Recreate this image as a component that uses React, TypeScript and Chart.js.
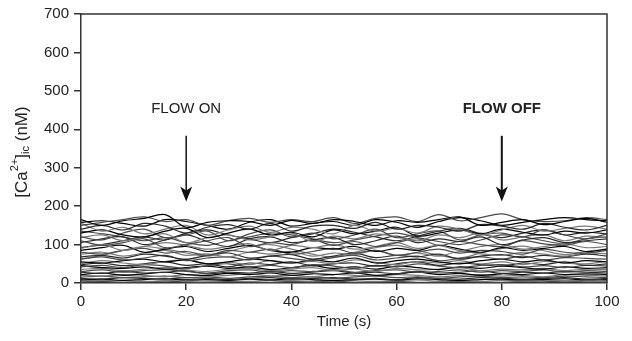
import React, { useEffect, useRef } from "react";
import { Chart, registerables } from "chart.js";

Chart.register(...registerables);

const TIMES = [0, 4, 8, 12, 16, 20, 24, 28, 32, 36, 40, 44, 48, 52, 56, 60, 64, 68, 72, 76, 80, 84, 88, 92, 96, 100];
const X_TICKS = [0, 20, 40, 60, 80, 100];
const Y_TICKS = [0, 100, 200, 300, 400, 500, 600, 700];
const ANNOTATIONS = [
  { label: "FLOW ON", time: 20, bold: false },
  { label: "FLOW OFF", time: 80, bold: true },
];

const T01 = [165, 150, 162, 168, 178, 145, 158, 162, 160, 150, 163, 155, 165, 160, 150, 162, 158, 165, 172, 150, 158, 165, 152, 160, 168, 158];
const T02 = [150, 158, 165, 172, 160, 165, 150, 162, 168, 158, 165, 160, 170, 155, 168, 172, 160, 178, 162, 170, 180, 165, 160, 162, 170, 165];
const T03 = [140, 150, 138, 155, 148, 130, 145, 152, 140, 155, 135, 148, 150, 142, 158, 140, 150, 145, 135, 152, 148, 140, 155, 145, 138, 150];
const T04 = [155, 135, 145, 128, 140, 150, 125, 138, 148, 132, 145, 140, 128, 150, 135, 142, 130, 148, 140, 125, 138, 150, 135, 142, 148, 140];
const T05 = [130, 138, 125, 120, 135, 142, 118, 130, 140, 125, 132, 120, 138, 128, 135, 145, 122, 130, 138, 128, 140, 132, 125, 135, 130, 138];
const T06 = [120, 112, 130, 140, 118, 125, 135, 110, 128, 138, 120, 130, 115, 125, 140, 118, 128, 135, 112, 125, 130, 120, 138, 125, 115, 128];
const T07 = [118, 125, 110, 120, 128, 105, 118, 125, 112, 120, 130, 108, 122, 115, 128, 120, 110, 125, 118, 130, 112, 120, 125, 110, 122, 118];
const T08 = [105, 115, 120, 100, 112, 125, 108, 95, 115, 120, 105, 112, 118, 100, 110, 122, 105, 115, 108, 120, 100, 112, 118, 105, 110, 115];
const T09 = [110, 98, 105, 115, 92, 100, 110, 118, 95, 105, 100, 112, 98, 108, 95, 105, 115, 98, 108, 100, 95, 110, 102, 98, 108, 100];
const T10 = [90, 100, 85, 95, 105, 98, 88, 95, 102, 85, 98, 92, 100, 88, 95, 105, 90, 98, 85, 95, 100, 88, 95, 102, 92, 95];
const T11 = [85, 92, 98, 80, 88, 95, 82, 90, 98, 85, 80, 92, 88, 95, 82, 90, 85, 98, 88, 80, 92, 85, 90, 95, 82, 88];
const T12 = [80, 75, 85, 90, 78, 82, 72, 85, 80, 88, 75, 82, 90, 78, 85, 72, 80, 88, 78, 85, 82, 75, 88, 80, 78, 85];
const T13 = [75, 80, 70, 78, 85, 72, 76, 68, 80, 75, 82, 70, 78, 74, 85, 72, 78, 70, 82, 76, 72, 80, 75, 70, 78, 76];
const T14 = [68, 72, 65, 75, 70, 62, 72, 78, 65, 70, 74, 62, 70, 78, 66, 72, 68, 75, 62, 70, 74, 66, 72, 68, 75, 70];
const T15 = [62, 68, 60, 65, 72, 58, 65, 68, 60, 70, 64, 58, 66, 72, 60, 65, 70, 58, 64, 68, 62, 70, 60, 66, 64, 62];
const T16 = [55, 52, 58, 62, 55, 60, 50, 55, 62, 58, 52, 60, 55, 65, 52, 58, 62, 55, 50, 58, 62, 55, 60, 52, 58, 55];
const T17 = [50, 58, 52, 48, 56, 60, 50, 54, 48, 58, 52, 56, 50, 60, 54, 48, 56, 52, 58, 50, 55, 48, 56, 52, 50, 56];
const T18 = [48, 52, 45, 50, 55, 46, 50, 42, 52, 48, 55, 45, 50, 52, 44, 50, 55, 46, 52, 48, 44, 52, 48, 55, 46, 50];
const T19 = [42, 46, 40, 48, 44, 38, 45, 50, 42, 46, 40, 48, 44, 38, 46, 42, 50, 44, 40, 46, 48, 42, 45, 40, 46, 44];
const T20 = [45, 40, 38, 42, 36, 40, 44, 38, 42, 35, 40, 45, 38, 42, 36, 44, 40, 35, 42, 38, 44, 40, 36, 42, 38, 40];
const T21 = [35, 38, 32, 36, 40, 34, 30, 36, 38, 32, 36, 40, 33, 36, 30, 38, 34, 36, 40, 32, 36, 34, 38, 32, 36, 35];
const T22 = [30, 34, 28, 32, 35, 30, 26, 32, 34, 28, 32, 30, 35, 28, 32, 34, 28, 30, 34, 28, 32, 30, 34, 28, 32, 30];
const T23 = [28, 25, 30, 26, 28, 32, 24, 28, 26, 30, 25, 28, 32, 26, 28, 24, 30, 26, 28, 32, 25, 28, 26, 30, 28, 26];
const T24 = [22, 26, 20, 24, 28, 22, 20, 25, 22, 26, 20, 24, 22, 26, 20, 24, 28, 22, 25, 20, 24, 22, 26, 22, 24, 22];
const T25 = [20, 18, 22, 20, 16, 22, 18, 20, 24, 18, 20, 16, 22, 20, 18, 22, 20, 16, 20, 22, 18, 20, 16, 22, 20, 18];
const T26 = [15, 18, 14, 16, 18, 14, 16, 12, 16, 18, 14, 16, 12, 16, 18, 14, 16, 12, 16, 18, 14, 16, 14, 18, 16, 14];
const T27 = [12, 10, 14, 12, 10, 14, 12, 9, 12, 14, 10, 12, 14, 10, 12, 9, 14, 12, 10, 14, 12, 10, 12, 14, 10, 12];
const T28 = [8, 10, 7, 9, 11, 8, 9, 7, 10, 8, 11, 9, 7, 9, 10, 8, 11, 9, 7, 9, 10, 8, 9, 11, 8, 9];
const T29 = [5, 7, 6, 4, 6, 8, 5, 6, 4, 7, 6, 5, 7, 6, 4, 6, 8, 5, 6, 4, 7, 5, 6, 7, 5, 6];
const T30 = [3, 4, 2, 3, 5, 3, 2, 4, 3, 2, 4, 3, 5, 2, 3, 4, 2, 3, 4, 3, 2, 4, 3, 5, 3, 3];
const T31 = [135, 128, 120, 110, 118, 105, 98, 110, 120, 130, 125, 115, 105, 112, 122, 130, 118, 108, 100, 112, 125, 120, 110, 102, 115, 120];
const T32 = [92, 100, 110, 120, 112, 130, 138, 125, 115, 105, 118, 128, 140, 132, 120, 110, 122, 135, 142, 128, 118, 130, 138, 125, 132, 128];
const T33 = [62, 72, 85, 95, 88, 78, 70, 82, 95, 100, 88, 75, 68, 80, 92, 98, 85, 72, 65, 78, 90, 96, 84, 74, 82, 88];
const T34 = [158, 162, 155, 148, 165, 160, 150, 140, 158, 165, 148, 155, 160, 150, 165, 158, 145, 160, 170, 162, 150, 158, 165, 170, 165, 162];

const TRACES = [T01, T02, T03, T04, T05, T06, T07, T08, T09, T10, T11, T12, T13, T14, T15, T16, T17, T18, T19, T20, T21, T22, T23, T24, T25, T26, T27, T28, T29, T30, T31, T32, T33, T34];
const TRACE_SHADES = ["#000000", "#4a4a4a", "#2a2a2a", "#7a7a7a"];
const TRACE_SHADE_ORDER = [0, 1, 2, 3, 0, 1, 3, 2, 1, 3, 0, 1, 3, 2, 1, 0, 3, 2, 1, 0, 3, 1, 2, 0, 3, 1, 2, 0, 3, 1, 1, 2, 3, 0];

const FONT = "'Liberation Sans', Arial, sans-serif";
const TEXT = "#222222";
const AXIS = "#333333";

const decorPlugin = {
  id: "decor",
  afterDraw(chart: any) {
    const { ctx, chartArea, scales } = chart;
    const { left, right, top, bottom } = chartArea;
    ctx.save();
    ctx.strokeStyle = AXIS;
    ctx.lineWidth = 1.5;
    ctx.beginPath();
    ctx.moveTo(left, top);
    ctx.lineTo(right, top);
    ctx.lineTo(right, bottom);
    ctx.stroke();

    ANNOTATIONS.forEach((a) => {
      const x = scales.x.getPixelForValue(a.time);
      const yText = scales.y.getPixelForValue(452);
      const yTail = scales.y.getPixelForValue(383);
      const yTip = scales.y.getPixelForValue(212);
      ctx.fillStyle = TEXT;
      ctx.font = (a.bold ? "bold " : "") + "15px " + FONT;
      ctx.textAlign = "center";
      ctx.textBaseline = "middle";
      ctx.fillText(a.label, x, yText);
      ctx.strokeStyle = "#111";
      ctx.lineWidth = a.bold ? 2 : 1.5;
      ctx.beginPath();
      ctx.moveTo(x, yTail);
      ctx.lineTo(x, yTip - 10);
      ctx.stroke();
      ctx.fillStyle = "#111";
      ctx.beginPath();
      ctx.moveTo(x, yTip);
      ctx.lineTo(x - 6, yTip - 15);
      ctx.lineTo(x, yTip - 11);
      ctx.lineTo(x + 6, yTip - 15);
      ctx.closePath();
      ctx.fill();
    });

    ctx.fillStyle = TEXT;
    ctx.font = "15px " + FONT;
    ctx.textAlign = "center";
    ctx.textBaseline = "middle";
    ctx.fillText("Time (s)", (left + right) / 2, 322);

    ctx.translate(22, 152);
    ctx.rotate(-Math.PI / 2);
    const parts = [
      { t: "[Ca", f: 17, dy: 0 },
      { t: "2+", f: 11, dy: -7 },
      { t: "]", f: 17, dy: 0 },
      { t: "ic", f: 11, dy: 4 },
      { t: " (nM)", f: 17, dy: 0 },
    ];
    let total = 0;
    parts.forEach((p) => {
      ctx.font = p.f + "px " + FONT;
      total += ctx.measureText(p.t).width;
    });
    let cx = -total / 2;
    ctx.textAlign = "left";
    parts.forEach((p) => {
      ctx.font = p.f + "px " + FONT;
      ctx.fillText(p.t, cx, p.dy);
      cx += ctx.measureText(p.t).width;
    });
    ctx.restore();
  },
};

export default function App() {
  const ref = useRef<HTMLCanvasElement | null>(null);

  useEffect(() => {
    if (!ref.current) return;
    const datasets = TRACES.map((vals, i) => ({
      label: "cell " + (i + 1),
      data: vals.map((v, j) => ({ x: TIMES[j], y: v })),
      borderColor: TRACE_SHADES[TRACE_SHADE_ORDER[i]],
      borderWidth: 1.2,
      pointRadius: 0,
      tension: 0.35,
      fill: false,
    }));
    const chart = new Chart(ref.current, {
      type: "line",
      data: { datasets },
      options: {
        animation: false,
        responsive: false,
        layout: { padding: { top: 12, right: 25, left: 0, bottom: 0 } },
        plugins: { legend: { display: false }, tooltip: { enabled: false } },
        scales: {
          x: {
            type: "linear",
            min: 0,
            max: 100,
            afterBuildTicks: (s: any) => {
              s.ticks = X_TICKS.map((v) => ({ value: v }));
            },
            afterFit: (s: any) => {
              s.height = 58;
            },
            ticks: { font: { size: 15, family: FONT }, color: TEXT, padding: 3, maxRotation: 0 },
            grid: { drawOnChartArea: false, drawTicks: true, tickLength: 7, color: AXIS, lineWidth: 1.5 },
            border: { display: true, color: AXIS, width: 1.5 },
          },
          y: {
            type: "linear",
            min: 0,
            max: 700,
            afterBuildTicks: (s: any) => {
              s.ticks = Y_TICKS.map((v) => ({ value: v }));
            },
            afterFit: (s: any) => {
              s.width = 81;
            },
            ticks: { font: { size: 15, family: FONT }, color: TEXT, padding: 5 },
            grid: { drawOnChartArea: false, drawTicks: true, tickLength: 7, color: AXIS, lineWidth: 1.5 },
            border: { display: true, color: AXIS, width: 1.5 },
          },
        },
      },
      plugins: [decorPlugin],
    } as any);
    return () => chart.destroy();
  }, []);

  return (
    <div style={{ position: "fixed", left: 0, top: 0, width: 632, height: 341, background: "#fff" }}>
      <canvas ref={ref} width={632} height={341} style={{ width: 632, height: 341, display: "block" }} />
    </div>
  );
}
